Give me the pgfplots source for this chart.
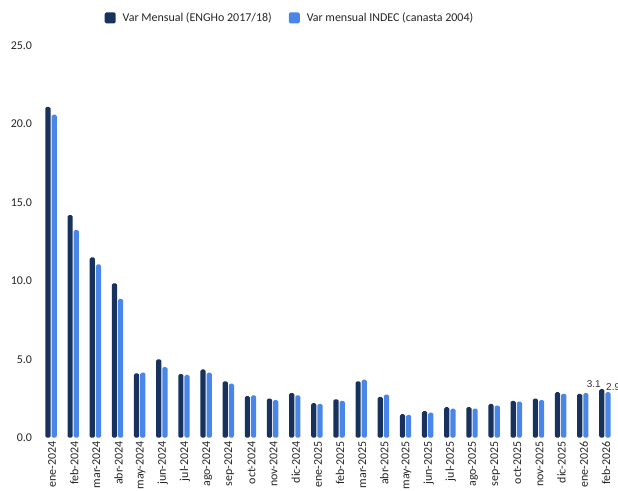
\documentclass[border=0pt]{standalone}
\usepackage{fontspec}
\setmainfont{Carlito}
\newfontfamily\labfont{Liberation Sans}
\usepackage{pgfplots}
\usepackage{pgfplotstable}
\pgfplotsset{compat=1.18}

\definecolor{engho}{RGB}{23,50,92}
\definecolor{indec}{RGB}{74,134,232}

% monthly variation, ene-2024 .. feb-2026
\pgfplotstableread{
idx eng  indec
0   21.1 20.6
1   14.2 13.25
2   11.5 11.05
3   9.85 8.85
4   4.1  4.15
5   5.0  4.5
6   4.05 4.0
7   4.35 4.15
8   3.6  3.45
9   2.65 2.7
10  2.5  2.4
11  2.85 2.7
12  2.2  2.15
13  2.45 2.35
14  3.6  3.7
15  2.6  2.75
16  1.5  1.45
17  1.7  1.6
18  1.95 1.85
19  1.95 1.85
20  2.15 2.05
21  2.35 2.3
22  2.5  2.4
23  2.9  2.8
24  2.8  2.85
25  3.1  2.9
}\datatab

\begin{document}
\begin{tikzpicture}
\begin{axis}[
  name=ax,
  scale only axis,
  width=576bp, height=392bp,
  xmin=-0.5, xmax=25.5,
  ymin=0, ymax=25,
  ytick={0,5,10,15,20,25},
  xtick={0,...,25},
  xticklabels={ene-2024,feb-2024,mar-2024,abr-2024,may-2024,jun-2024,jul-2024,ago-2024,sep-2024,oct-2024,nov-2024,dic-2024,ene-2025,feb-2025,mar-2025,abr-2025,may-2025,jun-2025,jul-2025,ago-2025,sep-2025,oct-2025,nov-2025,dic-2025,ene-2026,feb-2026},
  axis line style={draw=none},
  major tick length=0pt,
  tick style={draw=none},
  ybar=1bp, bar width=5.2bp,
  yticklabel style={font=\fontsize{12}{14}\selectfont, text=black!85, xshift=-4.5bp,
    /pgf/number format/.cd, fixed, fixed zerofill, precision=1, assume math mode=true},
  xticklabel style={rotate=90, anchor=east, font=\fontsize{12}{14}\selectfont, text=black!85, yshift=-1bp},
  legend columns=2,
  legend style={draw=none, fill=none, at={(rel axis cs:0.434,1.071)}, anchor=center,
    font=\fontsize{12}{14}\selectfont, text=black!85,
    /tikz/every odd column/.append style={column sep=5bp},
    /tikz/every even column/.append style={column sep=15bp}},
  legend image code/.code={\fill[#1] (0bp,-5.5bp) rectangle (11bp,5.5bp);},
  visualization depends on={value \coordindex \as \myidx},
  nodes near coords={\ifnum\myidx=25 \pgfmathprintnumber[fixed,precision=1,assume math mode=true]{\pgfplotspointmeta}\fi},
  nodes near coords style={font=\labfont\fontsize{10}{12}\selectfont, text=black!80, inner sep=1bp},
]
\addplot[fill=engho, draw=none, rounded corners=1.5bp,
  every node near coord/.append style={anchor=south, xshift=-8bp}]
  table[x=idx, y=eng] {\datatab};
\addplot[fill=indec, draw=none, rounded corners=1.5bp,
  every node near coord/.append style={anchor=south west, xshift=-3bp}]
  table[x=idx, y=indec] {\datatab};
\legend{Var Mensual (ENGHo 2017/18), Var mensual INDEC (canasta 2004)}
\end{axis}
\pgfresetboundingbox
\path[use as bounding box] ([xshift=-40bp,yshift=-53.3bp]ax.south west) rectangle ([xshift=2bp,yshift=45.7bp]ax.north east);
\end{tikzpicture}
\end{document}
